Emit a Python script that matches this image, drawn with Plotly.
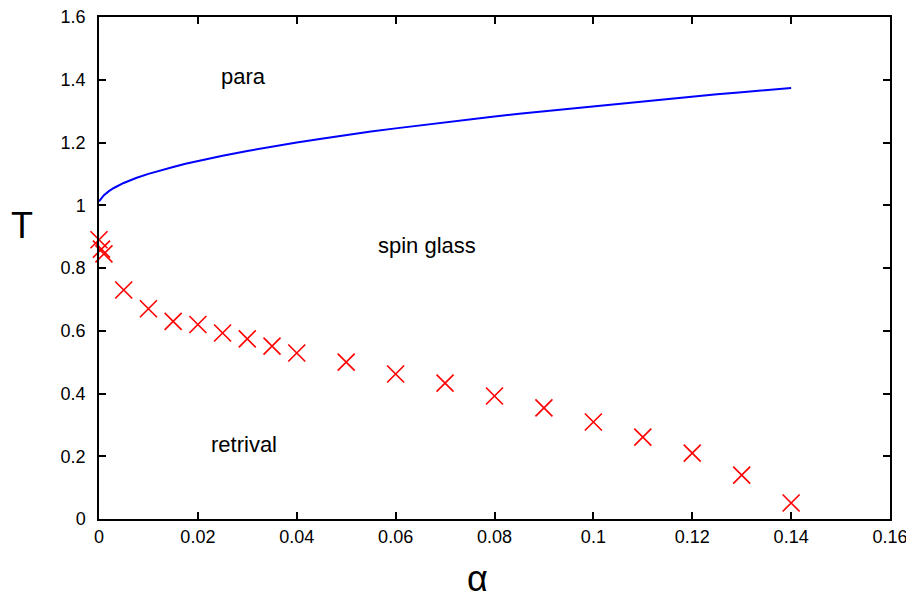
import plotly.graph_objects as go

# Blue boundary (para / spin glass)
alpha_line = [0, 0.0005, 0.001, 0.002, 0.003, 0.005, 0.0075, 0.01, 0.0125, 0.015, 0.0175,
              0.02, 0.025, 0.03, 0.035, 0.04, 0.045, 0.05, 0.055, 0.06, 0.065, 0.07, 0.075,
              0.08, 0.085, 0.09, 0.095, 0.1, 0.105, 0.11, 0.115, 0.12, 0.125, 0.13, 0.135, 0.14]
T_line = [1.012, 1.022, 1.032, 1.045, 1.055, 1.071, 1.087, 1.100, 1.112, 1.122, 1.132,
          1.141, 1.158, 1.173, 1.187, 1.200, 1.212, 1.224, 1.235, 1.245, 1.255, 1.265, 1.274,
          1.283, 1.292, 1.300, 1.308, 1.316, 1.324, 1.332, 1.339, 1.346, 1.354, 1.360, 1.367, 1.374]

# Red crosses (retrieval boundary)
alpha_pts = [0, 0.0005, 0.001, 0.005, 0.01, 0.015, 0.02, 0.025, 0.03, 0.035, 0.04,
             0.05, 0.06, 0.07, 0.08, 0.09, 0.1, 0.11, 0.12, 0.13, 0.14]
T_pts = [0.89, 0.86, 0.845, 0.73, 0.67, 0.63, 0.62, 0.593, 0.574, 0.551, 0.529,
         0.50, 0.462, 0.433, 0.392, 0.354, 0.309, 0.261, 0.21, 0.14, 0.051]

# Region labels
label_text = ["para", "spin glass", "retrival"]
label_x = [0.0293, 0.0664, 0.0293]
label_y = [1.409, 0.873, 0.239]

FONT = "Liberation Sans, Arial, sans-serif"
# page body has an 8px margin; compensate so the plot area lands at x 99..890, y 17..519
OFF = 8
W, H = 914 - OFF, 602 - OFF
L, R, T, B = 99 - OFF, 24, 17 - OFF, 83
PW, PH = W - L - R, H - T - B
AX_B = OFF + H - B  # pixel y of the x axis (519)

fig = go.Figure()
fig.add_trace(go.Scatter(x=alpha_line, y=T_line, mode="lines",
                         line=dict(color="#0000ff", width=2), showlegend=False))
fig.add_trace(go.Scatter(x=alpha_pts, y=T_pts, mode="markers",
                         marker=dict(symbol="x-thin", size=17, color="#ff0000",
                                     line=dict(color="#ff0000", width=1.6)),
                         cliponaxis=False, showlegend=False))

for t, x, y in zip(label_text, label_x, label_y):
    fig.add_annotation(x=x, y=y, text=t, showarrow=False, xref="x", yref="y",
                       font=dict(family=FONT, size=22, color="black"))

# axis titles placed by pixel position
fig.add_annotation(xref="paper", yref="paper", x=(22 - 99) / PW, y=(AX_B - 226) / PH,
                   xanchor="center", yanchor="middle",
                   text="T", showarrow=False, font=dict(family=FONT, size=36, color="black"))
fig.add_annotation(xref="paper", yref="paper", x=(477 - 99) / PW, y=-(578 - AX_B) / PH,
                   xanchor="center", yanchor="middle",
                   text="α", showarrow=False, font=dict(family=FONT, size=36, color="black"))

axis_common = dict(showline=True, linecolor="black", linewidth=1.5, mirror="ticks",
                   ticks="inside", ticklen=7, tickwidth=1.5, tickcolor="black",
                   showgrid=False, zeroline=False, automargin=False,
                   ticklabeloverflow="allow",
                   tickfont=dict(family=FONT, size=18, color="black"))

fig.update_layout(
    width=W, height=H,
    margin=dict(l=L, r=R, t=T, b=B, autoexpand=False),
    paper_bgcolor="white", plot_bgcolor="white",
    xaxis=dict(range=[0, 0.16], dtick=0.02, tick0=0, ticklabelstandoff=1, **axis_common),
    yaxis=dict(range=[0, 1.6], dtick=0.2, tick0=0, ticklabelstandoff=8, **axis_common),
)

fig.write_html("out.html")
